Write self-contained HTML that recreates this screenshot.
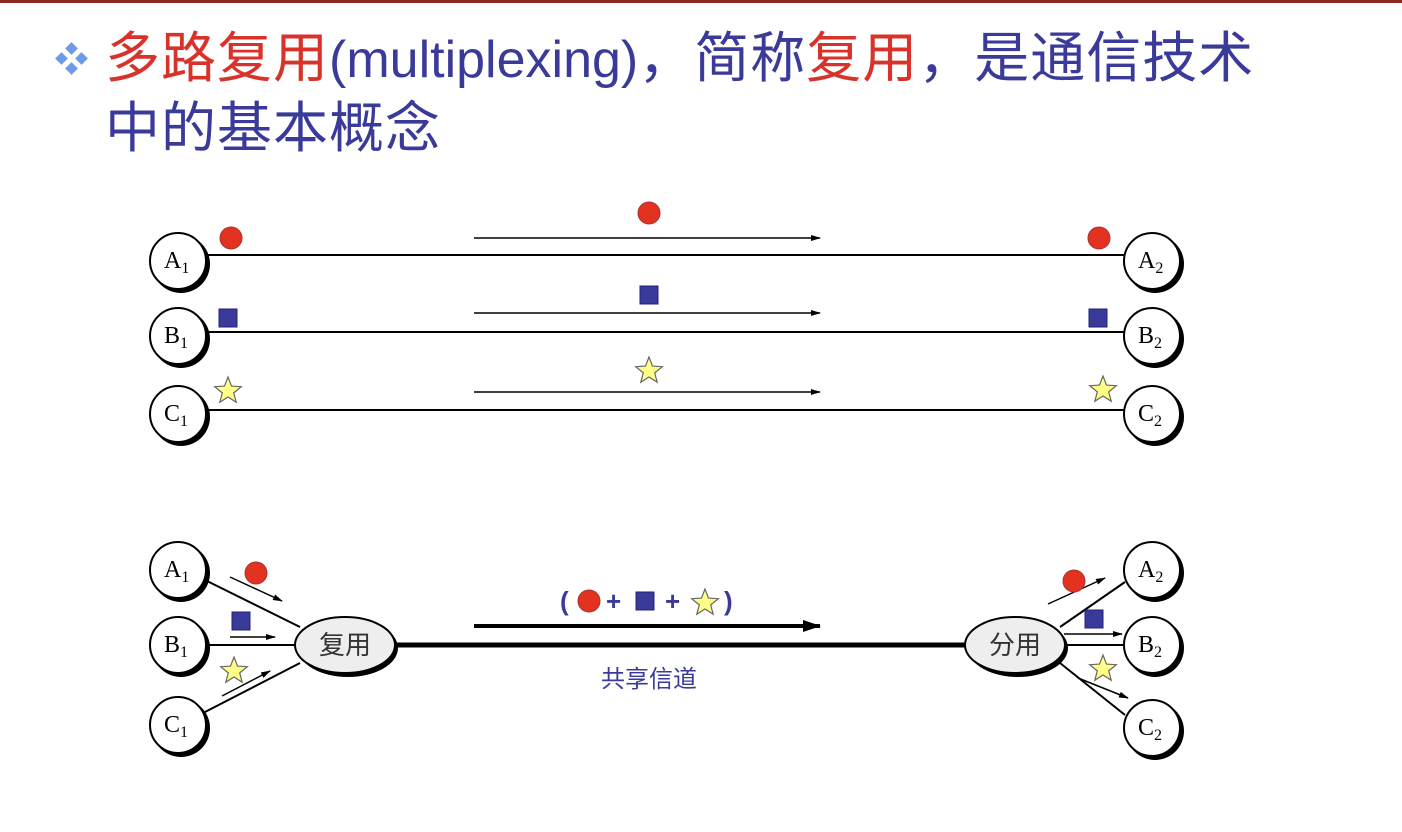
<!DOCTYPE html>
<html><head><meta charset="utf-8"><style>
body{margin:0;width:1402px;height:832px;background:#fff;overflow:hidden;position:relative;font-family:"Liberation Sans","Noto Sans CJK SC",sans-serif}
.t{position:absolute;font-size:52px;line-height:60px;color:#3a3a9a;white-space:nowrap}
.c{font-size:55px;letter-spacing:1px}
.r{color:#d8322a}
</style></head><body>
<div style="position:absolute;left:0;top:0;width:1402px;height:3px;background:#8b2a22"></div>
<svg style="position:absolute;left:54px;top:42px" width="36" height="34">
<g fill="#6f9ae8"><rect x="13" y="2" width="9" height="9" transform="rotate(45 17.5 6.5)"/><rect x="3" y="12" width="9" height="9" transform="rotate(45 7.5 16.5)"/><rect x="23" y="12" width="9" height="9" transform="rotate(45 27.5 16.5)"/><rect x="13" y="22" width="9" height="9" transform="rotate(45 17.5 26.5)"/></g></svg>
<div class="t" style="left:105px;top:28px"><span class="r c">多路复用</span>(multiplexing)<span class="c">，简称<span class="r">复用</span>，是通信技术</span></div>
<div class="t" style="left:105px;top:98px"><span class="c">中的基本概念</span></div>
<svg id="dia" width="1402" height="832" style="position:absolute;left:0;top:0">
<defs>
<marker id="ah" markerWidth="10" markerHeight="8" refX="9" refY="4" orient="auto" markerUnits="userSpaceOnUse"><path d="M0,1 L10,4 L0,7z" fill="#000"/></marker>
<marker id="ahb" markerWidth="18" markerHeight="12" refX="17" refY="6" orient="auto" markerUnits="userSpaceOnUse"><path d="M0,0 L18,6 L0,12z" fill="#000"/></marker>
</defs>
<g stroke="#000" stroke-width="2">
<line x1="206" y1="255" x2="1125" y2="255"/><line x1="206" y1="332" x2="1125" y2="332"/><line x1="206" y1="410" x2="1125" y2="410"/>
<line x1="474" y1="238" x2="820" y2="238" stroke-width="1.5" marker-end="url(#ah)"/>
<line x1="474" y1="313" x2="820" y2="313" stroke-width="1.5" marker-end="url(#ah)"/>
<line x1="474" y1="392" x2="820" y2="392" stroke-width="1.5" marker-end="url(#ah)"/>
<line x1="205" y1="580" x2="300" y2="627"/><line x1="205" y1="645" x2="296" y2="645"/><line x1="205" y1="712" x2="300" y2="663"/>
<line x1="1060" y1="627" x2="1125" y2="582"/><line x1="1064" y1="645" x2="1125" y2="645"/><line x1="1060" y1="663" x2="1125" y2="715"/>
<line x1="395" y1="645" x2="965" y2="645" stroke-width="5"/>
<line x1="474" y1="626" x2="820" y2="626" stroke-width="4" marker-end="url(#ahb)"/>
<g stroke-width="1.5" marker-end="url(#ah)">
<line x1="230" y1="577" x2="282" y2="601"/><line x1="230" y1="637" x2="275" y2="637"/><line x1="222" y1="696" x2="270" y2="671"/>
<line x1="1048" y1="604" x2="1105" y2="578"/><line x1="1064" y1="634" x2="1122" y2="634"/><line x1="1078" y1="678" x2="1128" y2="698"/>
</g></g>
<g id="nodes" font-family="Liberation Serif,serif" font-size="24"></g>
<g font-family="Noto Sans CJK SC,sans-serif" font-size="26" fill="#333">
<ellipse cx="348" cy="648" rx="50" ry="29" fill="#000"/><ellipse cx="345" cy="645" rx="50" ry="28" fill="#eee" stroke="#000" stroke-width="2"/><text x="345" y="654" text-anchor="middle">复用</text>
<ellipse cx="1018" cy="648" rx="50" ry="29" fill="#000"/><ellipse cx="1015" cy="645" rx="50" ry="28" fill="#eee" stroke="#000" stroke-width="2"/><text x="1015" y="654" text-anchor="middle">分用</text>
</g>
<g id="sym"></g>
<g font-size="26" fill="#3a3a9a" font-weight="bold" font-family="Liberation Sans,sans-serif">
<text x="560" y="610">(</text><text x="606" y="610">+</text><text x="665" y="610">+</text><text x="724" y="610">)</text>
</g>
<text x="649" y="687" text-anchor="middle" font-size="24" fill="#3a3a9a" font-family="Noto Sans CJK SC,sans-serif">共享信道</text>
</svg>
<script>
const NS='http://www.w3.org/2000/svg';
const nodeLetters=["A","B","C","A","B","C","A","B","C","A","B","C"];
const nodeSubs=["1","1","1","2","2","2","1","1","1","2","2","2"];
const nodeX=[178,178,178,1152,1152,1152,178,178,178,1152,1152,1152];
const nodeY=[261,336,414,261,336,414,570,645,725,570,645,728];
const circX=[649,231,1099,256,1074,589];
const circY=[213,238,238,573,581,601];
const sqX=[649,228,1098,241,1094,645];
const sqY=[295,318,318,621,619,601];
const stX=[649,228,1103,234,1103,705];
const stY=[371,391,390,671,669,603];
function mk(tag,attrs,parent){const e=document.createElementNS(NS,tag);for(const k in attrs)e.setAttribute(k,attrs[k]);parent.appendChild(e);return e;}
const ng=document.getElementById('nodes');
for(let i=0;i<nodeX.length;i++){
  const x=nodeX[i],y=nodeY[i];
  const g=mk('g',{},ng);
  
  
  mk('circle',{cx:x+3,cy:y+3,r:29,fill:'#000'},g);
  mk('circle',{cx:x,cy:y,r:28,fill:'#fff',stroke:'#000','stroke-width':2},g);
  const t=mk('text',{x:x-14,y:y+7},g);t.textContent=nodeLetters[i];
  const s=mk('tspan',{'font-size':16,dy:5},t);s.textContent=nodeSubs[i];
}
const sg=document.getElementById('sym');
for(let i=0;i<circX.length;i++){
  const c=mk('circle',{cx:circX[i],cy:circY[i],r:11,fill:'#e3321f',stroke:'#a33','stroke-width':1},sg);
  
  
}
for(let i=0;i<sqX.length;i++){
  const r=mk('rect',{x:sqX[i]-9,y:sqY[i]-9,width:18,height:18,fill:'#3a3a9a',stroke:'#227','stroke-width':1},sg);
  
  
}
for(let j=0;j<stX.length;j++){
  const p=[];
  for(let i=0;i<10;i++){const a=-Math.PI/2+i*Math.PI/5,r=i%2?6:14;p.push((stX[j]+r*Math.cos(a)).toFixed(1)+','+(stY[j]+r*Math.sin(a)).toFixed(1));}
  const s=mk('polygon',{points:p.join(' '),fill:'#ffff88',stroke:'#666','stroke-width':1.2},sg);
  
  
}
</script>
</body></html>
